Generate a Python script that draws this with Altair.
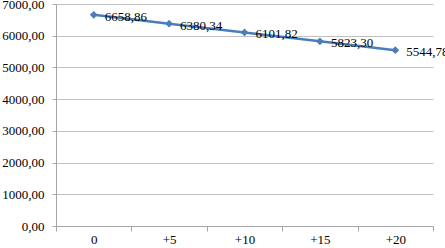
import altair as alt
import pandas as pd

categories = ["0", "+5", "+10", "+15", "+20"]
values = [6658.86, 6380.34, 6101.82, 5823.30, 5544.78]

df = pd.DataFrame({"cat": categories, "val": values})
df["lab"] = [f"{v:.2f}".replace(".", ",") for v in values]

FONT = "Liberation Serif"
BLUE = "#4a7ebb"

x = alt.X("cat:N", sort=categories, title=None,
          scale=alt.Scale(paddingInner=0, paddingOuter=0),
          axis=alt.Axis(labelAngle=0, tickBand="extent", tickSize=5, labelPadding=2,
                        domainColor="#a6a6a6", tickColor="#a6a6a6", grid=False,
                        labelFont=FONT, labelFontSize=13, labelColor="#000000"))
y = alt.Y("val:Q", title=None,
          scale=alt.Scale(domain=[0, 7000], nice=False),
          axis=alt.Axis(values=[0, 1000, 2000, 3000, 4000, 5000, 6000, 7000],
                        labelExpr="replace(format(datum.value, '.2f'), '.', ',')",
                        tickSize=4, labelPadding=8, gridColor="#c0c0c0",
                        domainColor="#a6a6a6", tickColor="#a6a6a6",
                        labelFont=FONT, labelFontSize=13, labelColor="#000000"))

base = alt.Chart(df).encode(x=x, y=y)
line = base.mark_line(color=BLUE, strokeWidth=2.5)
pts = base.mark_point(shape="diamond", filled=True, size=60, color=BLUE, opacity=1)
txt = base.mark_text(align="left", baseline="middle", dx=11, dy=2, font=FONT,
                     fontSize=13, color="#000000").encode(text="lab:N")

chart = (line + pts + txt).properties(
    width=377, height=222,
    autosize=alt.AutoSizeParams(type="none"),
    padding={"left": 56, "top": 4, "right": 12, "bottom": 22},
).configure(font=FONT).configure_view(stroke=None)

chart.save("out.html", embed_options={"renderer": "svg", "actions": False})
